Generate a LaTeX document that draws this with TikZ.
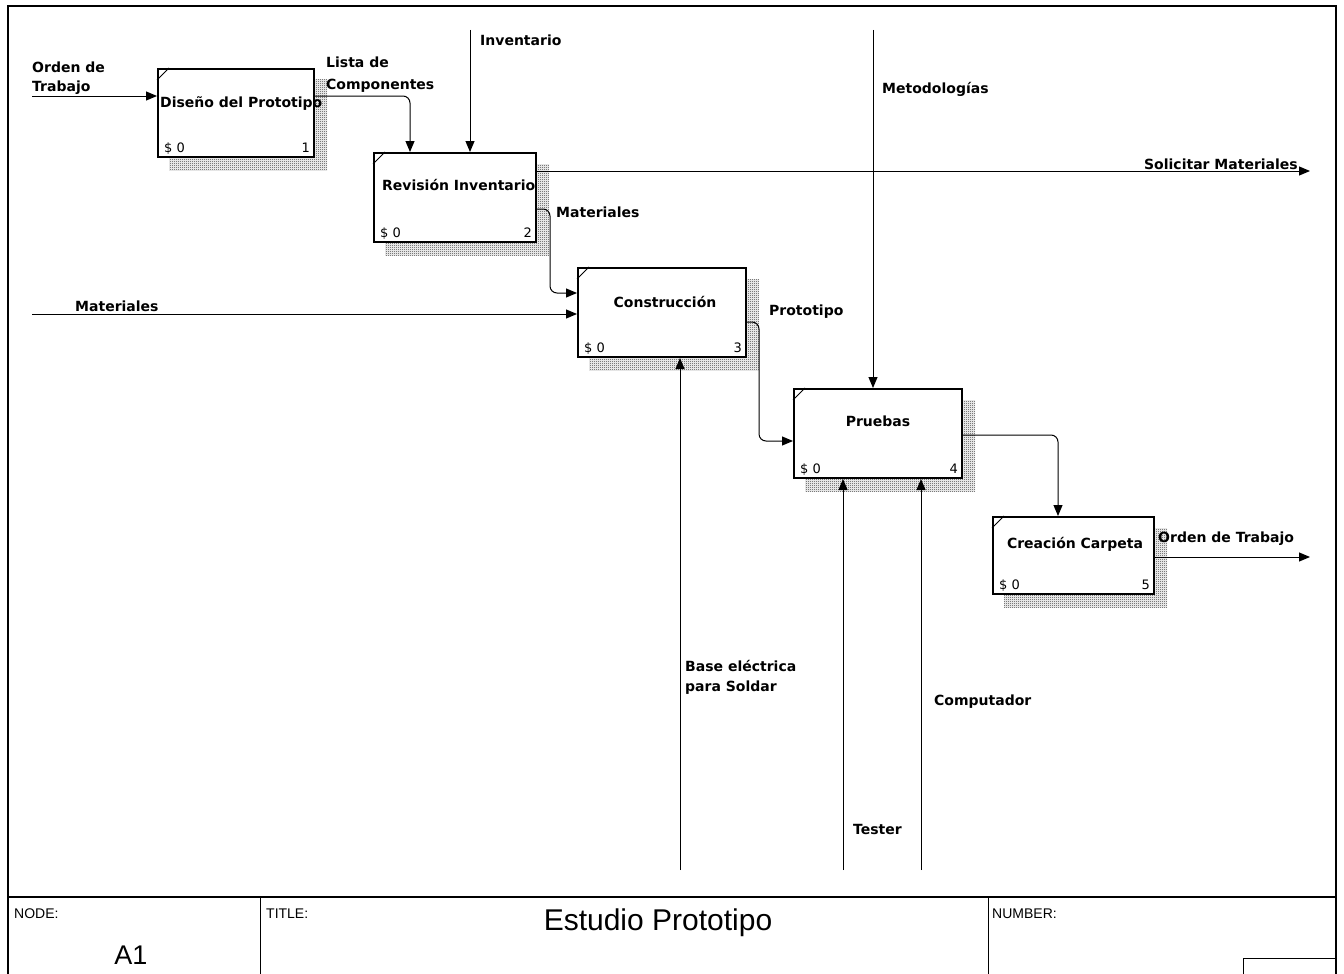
\documentclass[tikz,border=0pt]{standalone}
\usepackage{fontspec}
\setmainfont{DejaVu Sans}
\newfontfamily\framefont{Liberation Sans}
\usetikzlibrary{arrows.meta,calc,patterns}

% fine checker used for the drop shadows
\pgfdeclarepatternformonly{checker}{\pgfpointorigin}{\pgfpoint{2pt}{2pt}}{\pgfpoint{2pt}{2pt}}{%
  \pgfpathrectangle{\pgfpointorigin}{\pgfpoint{1pt}{1pt}}%
  \pgfpathrectangle{\pgfpoint{1pt}{1pt}}{\pgfpoint{1pt}{1pt}}%
  \pgfusepath{fill}}

\pgfdeclarelayer{bg}
\pgfsetlayers{bg,main}

\tikzset{
  actbox/.style={draw, line width=2pt, fill=white, anchor=north west, inner sep=0pt},
  shade/.style={pattern=checker, pattern color=black!80},
  tick/.style={line width=1pt},
  boxtitle/.style={font=\bfseries\fontsize{14}{16}\selectfont, inner sep=0pt},
  cost/.style={font=\fontsize{13}{15}\selectfont, inner sep=0pt},
  lab/.style={font=\bfseries\fontsize{14}{16}\selectfont, inner sep=0pt, anchor=base west, align=left},
  arr/.style={-{Triangle[length=11pt,width=9pt]}, line width=1pt},
  elbow/.style={rounded corners=7pt},
  frame/.style={line width=1.5pt},
  small/.style={font=\framefont\fontsize{14}{16}\selectfont, inner sep=0pt, anchor=base west},
}

\begin{document}
\begin{tikzpicture}[x=1pt, y=-1pt]
\useasboundingbox (0,0) rectangle (1344,974);

% ---- page frame and title block ----
\draw[frame] (8,974) -- (8,6) -- (1336,6) -- (1336,974);
\draw[line width=1.2pt] (8,897) -- (1336,897);
\draw[line width=0.8pt] (260,897) -- (260,974);
\draw[line width=0.8pt] (988,897) -- (988,974);
\draw[line width=1pt] (1243,974) -- (1243,958) -- (1336,958);
\node[small] (lnode) at (14,918) {NODE:};
\node[small] (ltitle) at (266,918) {TITLE:};
\node[small] (lnumber) at (992,918) {NUMBER:};
\node[font=\framefont\fontsize{27}{30}\selectfont, inner sep=0pt, anchor=base] (nodeid) at (131,964) {A1};
\node[font=\framefont\fontsize{30}{34}\selectfont, inner sep=0pt, anchor=base] (title) at (658,930) {Estudio Prototipo};

% ---- activity boxes ----
\node[actbox, minimum width=156pt, minimum height=88pt] (b1) at (157,68) {};
\node[actbox, minimum width=162pt, minimum height=89pt] (b2) at (373,152) {};
\node[actbox, minimum width=168pt, minimum height=89pt] (b3) at (577,267) {};
\node[actbox, minimum width=168pt, minimum height=89pt] (b4) at (793,388) {};
\node[actbox, minimum width=161pt, minimum height=77pt] (b5) at (992,516) {};

\begin{pgfonlayer}{bg}
  \foreach \b in {b1,b2,b3,b4,b5}
    \fill[shade] ($(\b.south west)+(12,12)$) rectangle ($(\b.north east)+(12,12)$);
\end{pgfonlayer}

\foreach \b in {b1,b2,b3,b4,b5}
  \draw[tick] ($(\b.north west)+(0,12)$) -- ($(\b.north west)+(12,0)$);

\node[boxtitle, anchor=base west] (t1) at ($(b1.north west)+(3,39)$) {Diseño del Prototipo};
\node[boxtitle, anchor=base west] (t2) at ($(b2.north west)+(9,38)$) {Revisión Inventario};
\node[boxtitle, anchor=base] (t3) at ($(b3.north west)+(88,40)$) {Construcción};
\node[boxtitle, anchor=base] (t4) at ($(b4.north west)+(85,38)$) {Pruebas};
\node[boxtitle, anchor=base] (t5) at ($(b5.north west)+(83,32)$) {Creación Carpeta};

\foreach \b/\n in {b1/1,b2/2,b3/3,b4/4,b5/5}{
  \node[cost, anchor=base west] at ($(\b.south west)+(7,-6)$) {\$ 0};
  \node[cost, anchor=base east] at ($(\b.south east)+(-5,-6)$) {\n};
}

% ---- free ends of the boundary arrows ----
\coordinate (inOrden) at (32,96);
\coordinate (inInv) at (470,30);
\coordinate (outSol) at (1310,171);
\coordinate (inMat) at (32,314);
\coordinate (inMet) at (873,30);
\coordinate (inBase) at (680,870);
\coordinate (inTester) at (843,870);
\coordinate (inComp) at (921,870);
\coordinate (outOrden) at (1310,557);

% ---- connectors ----
\draw[arr] (inOrden) -- (inOrden -| b1.west);
\draw[arr, elbow] ($(b1.north east)+(0,28)$) -| ($(b2.north west)+(37,0)$);
\draw[arr] (inInv) -- (inInv |- b2.north);
\draw[arr] (outSol -| b2.east) -- (outSol);
\draw[arr, elbow] ($(b2.north east)+(0,57)$) -- ++(13,0) |- ($(b3.north west)+(0,26)$);
\draw[arr] (inMat) -- (inMat -| b3.west);
\draw[arr, elbow] ($(b3.north east)+(0,55)$) -- ++(12,0) |- ($(b4.north west)+(0,53)$);
\draw[arr] (inMet) -- (inMet |- b4.north);
\draw[arr] (inBase) -- (inBase |- b3.south);
\draw[arr] (inTester) -- (inTester |- b4.south);
\draw[arr] (inComp) -- (inComp |- b4.south);
\draw[arr, elbow] ($(b4.north east)+(0,47)$) -| ($(b5.north west)+(66,0)$);
\draw[arr] (outOrden -| b5.east) -- (outOrden);

% ---- connector labels ----
\node[lab] (lOrden) at (32,73) {Orden de};
\node[lab] (lTrabajo) at (32,92) {Trabajo};
\node[lab] (lLista) at (326,68) {Lista de};
\node[lab] (lComp) at (326,89) {Componentes};
\node[lab] (lInv) at (480,46) {Inventario};
\node[lab, anchor=base east] (lSol) at (1298,169) {Solicitar Materiales};
\node[lab] (lMat2) at (556,217) {Materiales};
\node[lab] (lMat1) at (75,311) {Materiales};
\node[lab] (lProt) at (769,315) {Prototipo};
\node[lab] (lMet) at (882,93) {Metodologías};
\node[lab] (lBase) at (685,671) {Base eléctrica};
\node[lab] (lPara) at (685,691) {para Soldar};
\node[lab] (lCompu) at (934,705) {Computador};
\node[lab] (lTester) at (853,834) {Tester};
\node[lab] (lOrdenOut) at (1158,542) {Orden de Trabajo};
\end{tikzpicture}
\end{document}
